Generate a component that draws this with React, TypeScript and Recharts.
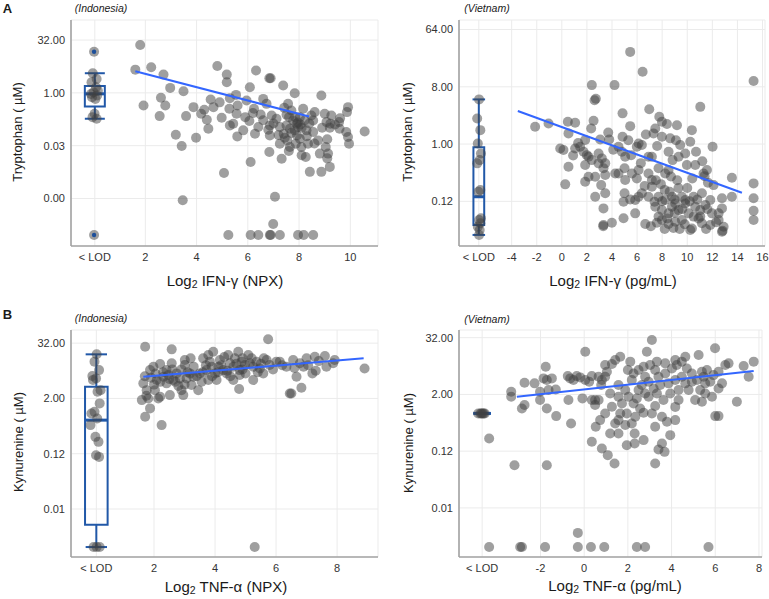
import React from "react";
import {
  ScatterChart,
  Scatter,
  XAxis,
  YAxis,
  CartesianGrid,
  ReferenceLine,
  ReferenceArea,
} from "recharts";

type XY = [number, number];

// all values are plotted on log2 scales: x = log2 cytokine, y = log2 metabolite (µM)
const trpTicksIdn = [5, 0, -5, -10];
const trpLabelsIdn = ["32.00", "1.00", "0.03", "0.00"];
const trpTicksVn = [6, 3, 0, -3];
const trpLabelsVn = ["64.00", "8.00", "1.00", "0.12"];
const kynTicks = [5, 1, -3, -7];
const kynLabels = ["32.00", "2.00", "0.12", "0.01"];

const ifnTicksIdn = [2, 4, 6, 8, 10];
const ifnTicksVn = [-4, -2, 0, 2, 4, 6, 8, 10, 12, 14, 16];
const tnfTicksIdn = [2, 4, 6, 8];
const tnfTicksVn = [-2, 0, 2, 4, 6, 8];

// A, Indonesia
const idnIfnTrp: XY[] = [
  [1.8, 4.53], [1.61, 2.2], [2.23, 2.42], [2.71, 1.73], [4.81, 2.55], [5.18, 1.73], [5.18, 1.01], [6.32, 2.11], [6.84, 1.38], [6.89, 1.38],
  [6.08, 0.53], [7.38, 0.69], [7.83, -0.03], [2.97, 0.47], [3.49, 0.16], [2.61, -0.47], [5.54, -0.19], [4.55, -0.63], [5.95, -0.72], [8.87, -0.25],
  [6.6, -0.57], [1.93, -1.19], [2.78, -1.19], [3.88, -1.35], [4.66, -1.35], [4.18, -1.98], [5.28, -1.51], [5.56, -1.98], [6.24, -1.51], [6.73, -1.04],
  [6.93, -2.14], [7.57, -1.04], [7.42, -1.42], [7.7, -1.67], [8.16, -1.51], [8.61, -1.82], [9.0, -1.98], [9.26, -2.14], [9.91, -1.35], [9.87, -1.82],
  [2.56, -2.2], [3.59, -2.2], [8.03, -2.3], [7.51, -2.08], [7.61, -2.3], [8.48, -2.14], [6.5, -2.04], [4.4, -2.55], [4.98, -2.36], [5.3, -3.08],
  [5.43, -2.92], [6.06, -2.67], [6.41, -3.24], [6.86, -3.08], [7.12, -2.45], [7.25, -3.24], [7.64, -3.4], [7.77, -2.61], [7.9, -2.92], [7.96, -3.24],
  [8.22, -2.61], [8.29, -3.55], [8.55, -3.71], [8.55, -2.61], [9.07, -2.77], [9.22, -2.92], [9.56, -2.77], [9.58, -3.4], [9.84, -3.71], [10.56, -3.65],
  [4.46, -3.4], [5.82, -3.55], [7.51, -3.08], [7.83, -3.55], [3.19, -3.96], [3.98, -4.25], [5.59, -4.12], [6.28, -3.87], [6.86, -4.03], [7.44, -4.25],
  [7.54, -4.5], [7.92, -4.03], [8.03, -4.34], [7.87, -4.81], [8.09, -5.13], [8.35, -4.81], [8.74, -4.5], [9.04, -5.13], [9.91, -4.18], [9.95, -4.81],
  [3.42, -5.03], [6.84, -5.6], [7.64, -5.13], [9.13, -5.75], [8.81, -5.75], [7.25, -4.81], [8.26, -6.07], [7.32, -6.23], [6.11, -6.54], [9.2, -7.01],
  [8.42, -7.48], [8.87, -7.48], [5.07, -7.58], [7.06, -9.84], [3.46, -10.16], [6.99, -12.42],
  [5.24, -13.46], [6.11, -13.46], [6.41, -13.46], [6.86, -13.46], [6.89, -13.46], [7.25, -13.46], [7.96, -13.46], [8.18, -13.46], [8.55, -13.46],
  [7.85, -2.3], [7.95, -2.8], [8.05, -3.0], [7.7, -3.8], [8.1, -3.3], [8.4, -2.9], [8.3, -4.1], [7.4, -3.9], [7.2, -4.0], [9.1, -4.4],
  [9.2, -3.3], [6.6, -2.6], [6.8, -3.5], [7.0, -2.9], [5.9, -2.3], [6.2, -1.9], [4.9, -0.9], [5.3, -0.5], [4.3, -1.6], [5.6, -1.2],
  [9.4, -3.0], [9.6, -2.4], [8.9, -3.3], [8.6, -4.8], [7.6, -5.5], [9.1, -6.2], [8.1, -5.9],
];
const idnIfnTrpLod: XY[] = [
  [0.0, 3.9], [-0.05, 1.86], [0.1, 1.32], [-0.1, 1.0], [0.08, 0.53], [-0.02, 0.06], [0.12, -0.25], [-0.08, -0.41],
  [0.05, -0.57], [0.15, 0.2], [-0.12, -0.1], [0.02, -1.98], [-0.06, -2.3], [0.1, -2.45], [0.0, -13.46],
];
const idnIfnTrpOut: XY[] = [[0.0, 3.9], [0.0, -13.46]];
const idnIfnTrpBox = [-2.45, -1.29, -0.09, 0.66, 1.86];
const idnIfnTrpFit: XY[] = [[1.61, 2.04], [8.39, -2.23]];

// A, Vietnam
const vnIfnTrp: XY[] = [
  [5.45, 4.83], [6.44, 3.79], [15.29, 3.3], [2.39, 3.09], [4.2, 3.09], [2.71, 2.37], [2.61, 2.3], [11.04, 1.95], [6.97, 1.82], [4.84, 1.61],
  [7.77, 1.43], [-2.13, 0.91], [-1.06, 1.08], [0.48, 1.17], [1.06, 1.12], [2.53, 1.22], [2.34, 0.82], [5.45, 0.94], [7.45, 0.82], [7.31, 0.56],
  [7.98, 1.17], [8.38, 1.05], [9.18, 0.99], [10.37, 0.73], [0.53, 0.56], [1.86, 0.21], [3.06, 0.24], [3.78, 0.24], [4.84, 0.38], [6.12, 0.03],
  [5.98, -0.14], [7.98, 0.38], [8.64, 0.3], [9.44, -0.05], [10.24, 0.12], [12.02, -0.14], [-0.13, -0.23], [0.13, -0.31], [1.06, -0.23], [1.46, -0.14],
  [1.73, -0.4], [1.99, -0.58], [2.13, -0.66], [2.93, -0.49], [3.19, -0.75], [3.46, -1.01], [4.52, -0.14], [4.79, -0.4], [5.05, -0.66], [5.53, -0.58],
  [6.38, -0.05], [6.91, -0.66], [7.18, -0.66], [8.51, -0.4], [8.83, -0.84], [9.31, -0.66], [9.84, -0.49], [9.97, -1.1], [10.64, -1.1], [11.3, -1.54],
  [11.57, -1.36], [0.53, -1.19], [1.86, -1.1], [2.39, -0.84], [2.93, -1.01], [3.32, -1.27], [4.52, -1.54], [5.0, -1.27], [5.59, -1.54], [6.12, -1.36],
  [2.13, -1.71], [2.66, -1.71], [3.46, -1.62], [4.26, -1.54], [5.05, -1.88], [5.98, -1.8], [6.91, -1.54], [7.18, -1.88], [7.71, -1.27], [8.24, -1.54],
  [8.51, -1.36], [0.27, -2.11], [1.86, -1.97], [3.14, -2.15], [15.29, -2.06], [13.56, -1.76], [11.38, -1.68], [11.65, -2.02], [12.1, -2.15], [2.66, -2.76],
  [3.46, -2.58], [5.0, -2.58], [5.85, -2.93], [6.38, -2.58], [7.39, -3.02], [7.71, -2.76], [7.18, -2.23], [4.92, -3.02], [5.45, -2.9], [6.12, -2.76],
  [6.91, -2.76], [8.78, -2.76], [9.84, -2.93], [10.51, -2.76], [11.17, -2.58], [11.84, -2.93], [12.77, -2.84], [13.56, -2.76], [15.29, -2.84], [15.29, -3.49],
  [15.29, -3.98], [3.32, -3.37], [5.85, -3.63], [4.92, -3.89], [3.32, -4.24], [3.99, -4.12], [6.65, -4.19], [7.58, -4.12], [7.98, -3.98], [8.51, -4.19],
  [9.04, -4.07], [9.57, -3.98], [10.37, -4.42], [11.17, -4.15], [11.84, -4.24], [12.5, -3.98], [12.9, -4.33], [12.82, -4.54], [7.45, -3.28], [7.98, -3.46],
  [8.51, -3.63], [9.04, -3.11], [9.31, -3.46], [9.84, -3.11], [10.11, -3.63], [10.64, -3.28], [11.04, -3.46], [11.44, -3.19], [11.97, -3.63], [12.5, -3.63],
  [12.77, -3.37], [7.71, -3.8], [8.24, -2.93], [8.78, -3.28], [9.57, -2.76], [10.51, -3.8], [11.04, -3.8], [12.77, -4.59], [10.24, -4.5],
  [8.2, -2.4], [8.6, -2.5], [9.0, -2.9], [9.3, -2.3], [8.0, -3.0], [8.4, -3.9], [9.0, -3.6], [9.6, -3.4], [10.2, -3.0], [10.8, -2.9],
  [10.9, -3.9], [9.8, -4.2], [8.9, -4.4], [7.9, -2.1], [10.0, -2.3], [10.4, -1.8], [9.2, -1.9], [8.7, -1.7], [7.5, -1.9], [6.6, -2.2],
  [11.2, -0.9], [10.7, -0.4], [9.1, 0.2], [7.6, -0.1], [6.7, 0.5], [4.1, -0.3], [3.7, 0.6], [1.3, 0.05], [0.9, -0.6], [5.3, 0.2],
  [6.3, -1.0], [11.6, -3.4], [12.3, -4.1], [7.1, -4.3], [8.2, -4.45], [9.4, -4.45], [11.5, -4.45], [3.3, -4.3],
];
const vnIfnTrpLod: XY[] = [
  [-6.6, 2.34], [-6.75, 1.34], [-6.5, 0.73], [-6.7, 0.03], [-6.45, -0.49], [-6.55, -0.84], [-6.75, -1.01], [-6.5, -2.41],
  [-6.65, -2.5], [-6.45, -3.89], [-6.6, -3.98], [-6.5, -4.15], [-6.7, -4.33], [-6.55, -4.5], [-6.6, -4.76],
];
const vnIfnTrpOut: XY[] = [];
const vnIfnTrpBox = [-4.76, -4.24, -2.76, -0.17, 2.34];
const vnIfnTrpFit: XY[] = [[-3.51, 1.73], [14.36, -2.55]];

// B, Indonesia
const idnTnfKyn: XY[] = [
  [1.71, 4.74], [2.58, 4.55], [5.74, 5.28], [8.9, 3.17], [1.65, 2.09], [1.6, 0.88], [1.71, -0.33], [1.87, 0.28], [1.76, 1.6], [1.87, 3.05],
  [1.98, 3.29], [2.09, 2.33], [2.14, 1.0], [2.2, 3.49], [2.31, 2.57], [2.41, 2.09], [2.41, 3.05], [2.47, 2.69], [2.52, 1.24], [2.58, 3.54],
  [2.63, 2.33], [2.74, 2.81], [2.85, 2.45], [2.9, 1.6], [2.96, 1.24], [3.01, 3.78], [3.07, 2.45], [3.18, 2.81], [3.23, 1.97], [3.29, 2.57],
  [3.45, 1.6], [3.5, 2.81], [3.61, 3.9], [3.72, 3.05], [3.78, 4.14], [3.83, 3.66], [3.89, 3.29], [3.94, 4.38], [4.0, 2.81], [4.05, 2.33],
  [4.11, 3.29], [4.16, 3.78], [4.27, 3.05], [4.38, 2.81], [4.43, 4.14], [4.49, 3.54], [4.6, 3.29], [4.6, 2.33], [4.65, 3.9], [4.76, 4.38],
  [4.81, 3.05], [4.87, 3.66], [4.79, 1.68], [4.98, 3.42], [5.09, 4.14], [5.14, 3.54], [5.25, 3.29], [5.25, 2.33], [5.36, 3.66], [5.47, 3.17],
  [5.58, 2.81], [5.69, 3.78], [5.79, 3.42], [6.01, 3.66], [6.34, 3.29], [6.45, 1.36], [6.5, 1.36], [6.56, 3.78], [6.67, 2.57], [6.78, 3.54],
  [6.83, 1.77], [7.0, 3.9], [7.19, 2.81], [7.27, 4.02], [7.6, 4.07], [7.65, 3.29], [7.87, 3.54], [7.92, 3.78], [6.12, 3.66], [4.81, 2.69],
  [3.56, 2.21], [3.78, 2.33], [3.01, 3.42], [2.03, 1.6], [1.81, 1.0], [2.2, 1.12], [2.25, -0.93], [5.3, -9.75],
  [2.3, 2.9], [2.5, 2.4], [2.7, 2.2], [2.9, 3.1], [3.1, 2.9], [3.3, 3.3], [3.4, 2.6], [3.6, 2.9], [3.9, 2.6], [4.1, 2.9],
  [4.2, 3.4], [4.4, 3.0], [4.5, 2.6], [4.7, 3.5], [4.9, 3.1], [5.0, 2.8], [5.2, 3.9], [5.4, 2.9], [5.5, 3.5], [5.9, 3.1],
  [6.2, 3.4], [6.6, 3.2], [7.05, 3.4], [7.4, 3.7], [3.2, 3.9], [2.05, 2.8], [1.9, 2.5], [2.2, 2.2], [2.6, 3.1], [3.7, 3.4],
  [4.3, 4.0], [4.9, 3.9], [5.6, 3.9], [6.9, 3.3], [7.3, 3.0], [2.8, 1.9], [3.0, 2.0], [1.75, 1.2], [2.0, 2.0], [1.7, 2.6],
];
const idnTnfKynLod: XY[] = [
  [0.12, 4.19], [0.05, 3.66], [0.2, 3.05], [-0.02, 2.62], [0.1, 2.45], [0.0, 2.33], [0.25, 1.6], [0.15, 1.48], [0.22, 0.64], [0.05, 0.03],
  [-0.05, -0.09], [0.14, -0.45], [-0.08, -0.93], [0.08, -1.78], [0.18, -2.14], [0.1, -3.11], [0.2, -3.23], [0.02, -9.75], [0.12, -9.75], [0.22, -9.75],
];
const idnTnfKynOut: XY[] = [];
const idnTnfKynBox = [-9.75, -8.13, -0.57, 1.85, 4.19];
const idnTnfKynFit: XY[] = [[1.65, 2.57], [8.87, 3.9]];

// B, Vietnam
const vnTnfKyn: XY[] = [
  [-3.34, 1.19], [-3.34, 0.84], [-3.19, -3.99], [-2.85, 0.01], [-2.73, 0.25], [-2.73, 1.82], [-2.27, 1.78], [-2.02, 1.19], [-2.02, 0.6], [-1.86, 2.13],
  [-1.76, 2.95], [-1.71, 2.01], [-1.63, 1.31], [-1.48, 2.13], [-1.3, 1.35], [-1.71, 0.01], [-1.28, -0.53], [-1.71, -3.99], [-2.93, -9.75], [-2.85, -9.75],
  [-4.35, -9.75], [-1.79, -9.75], [-0.75, 2.29], [-0.64, 2.13], [-0.49, 2.01], [-0.34, 2.29], [-0.18, 2.2], [0.05, 2.01], [0.23, 1.89], [0.35, 2.29],
  [0.66, 2.25], [0.81, 2.01], [-0.72, 0.6], [-0.6, -1.05], [0.05, 4.01], [-0.08, 0.72], [0.35, 0.6], [0.5, 0.6], [0.66, 0.6], [0.78, 1.66],
  [0.96, 2.25], [0.53, -1.28], [0.73, -0.81], [0.96, 3.07], [1.04, 2.6], [1.27, 3.14], [1.42, 3.42], [1.65, 3.66], [-0.29, -8.76], [-0.29, -9.75],
  [0.31, -9.75], [0.92, -9.75], [2.41, -9.75], [2.79, -9.75], [5.69, -9.75], [0.35, -2.34], [0.81, -2.81], [1.08, -3.28], [1.39, -3.87], [1.19, -1.75],
  [1.57, -1.75], [1.42, -1.05], [1.65, -0.34], [1.73, 0.36], [1.57, -0.81], [1.88, -1.16], [2.18, -1.05], [1.95, -2.58], [2.31, -1.75], [2.31, -2.46],
  [2.72, -2.22], [3.25, -3.87], [3.4, -2.88], [3.56, -2.46], [3.68, -3.05], [3.94, -1.87], [2.87, 4.01], [3.1, 4.84], [5.24, 3.78], [5.99, 4.25],
  [7.76, 3.31], [7.3, 3.0], [7.53, 2.25], [6.99, 0.48], [6.0, -0.53], [6.15, -0.53], [5.39, 0.48], [5.85, 0.84], [4.17, -0.81], [4.17, 0.12],
  [3.79, -0.93], [2.72, -0.29], [3.1, -0.34], [3.25, 0.18], [2.56, 0.01], [2.26, 0.36], [2.95, 0.84], [2.49, 1.31], [3.63, 0.6], [4.32, 0.6],
  [4.78, 1.31], [5.31, 1.31], [5.54, 1.07], [4.63, 1.78], [1.57, 1.66], [1.88, 1.31], [2.0, 2.72], [2.26, 2.48], [2.49, 2.72], [2.72, 2.95],
  [3.02, 3.07], [3.25, 2.72], [3.4, 2.25], [3.71, 2.48], [4.02, 2.83], [4.24, 3.07], [4.47, 3.31], [4.7, 2.83], [4.93, 2.48], [5.16, 2.01],
  [5.47, 2.25], [5.62, 2.72], [5.92, 2.36], [6.15, 2.6], [6.46, 3.07], [6.61, 3.19], [6.31, 1.78], [2.18, 2.01], [2.64, 1.66], [2.95, 1.89],
  [3.18, 1.42], [3.48, 1.66], [3.86, 1.78], [4.17, 2.01], [4.47, 2.25], [4.93, 1.89], [2.79, 2.25], [2.11, 3.31], [3.33, 3.31], [3.71, 3.19],
  [4.17, 3.42], [4.63, 3.66], [5.39, 2.6], [5.77, 1.89], [6.15, 1.42], [5.54, 1.78], [2.03, 0.84], [2.41, 0.72], [2.79, 1.07], [3.33, 1.07],
  [3.94, 1.07], [4.32, 1.31], [5.08, 0.6], [1.57, 0.84], [1.27, 0.13], [2.34, -0.58], [3.56, -0.58], [3.25, -1.28], [1.95, -0.34], [0.96, -0.34],
  [0.5, 0.25], [1.19, 1.07],
];
const vnTnfKynLod: XY[] = [
  [-4.85, -0.34], [-4.75, -0.34], [-4.65, -0.34], [-4.55, -0.34], [-4.7, -0.34], [-4.6, -0.34], [-4.35, -2.11],
];
const vnTnfKynOut: XY[] = [];
const vnTnfKynBox = [-0.34, -0.34, -0.34, -0.34, -0.34];
const vnTnfKynFit: XY[] = [[-3.08, 0.84], [7.76, 2.65]];

type PanelCfg = {
  left: number;
  top: number;
  width: number;
  height: number;
  margin: { top: number; right: number; bottom: number; left: number };
  yw: number;
  xh: number;
  xDomain: [number, number];
  yDomain: [number, number];
  lodX: number;
  xTicks: number[];
  yTicks: number[];
  yLabels: string[];
  points: XY[];
  lod: XY[];
  outliers: XY[];
  box: number[];
  boxHalf: number;
  capHalf: number;
  fit: XY[];
};

const panels: PanelCfg[] = [
  {
    left: 0, top: 0, width: 385, height: 270,
    margin: { top: 20, right: 7, bottom: 0, left: 0 }, yw: 71, xh: 24,
    xDomain: [-0.9, 11.08], yDomain: [-14.5, 6.9], lodX: 0.03,
    xTicks: ifnTicksIdn, yTicks: trpTicksIdn, yLabels: trpLabelsIdn,
    points: idnIfnTrp, lod: idnIfnTrpLod, outliers: idnIfnTrpOut,
    box: idnIfnTrpBox, boxHalf: 0.39, capHalf: 0.39, fit: idnIfnTrpFit,
  },
  {
    left: 385, top: 0, width: 384, height: 270,
    margin: { top: 20, right: 4, bottom: 0, left: 0 }, yw: 74, xh: 24,
    xDomain: [-8.2, 16.2], yDomain: [-5.34, 6.5], lodX: -6.62,
    xTicks: ifnTicksVn, yTicks: trpTicksVn, yLabels: trpLabelsVn,
    points: vnIfnTrp, lod: vnIfnTrpLod, outliers: vnIfnTrpOut,
    box: vnIfnTrpBox, boxHalf: 0.43, capHalf: 0.5, fit: vnIfnTrpFit,
  },
  {
    left: 0, top: 300, width: 385, height: 280,
    margin: { top: 30, right: 7, bottom: 0, left: 0 }, yw: 71, xh: 23,
    xDomain: [-0.72, 9.34], yDomain: [-10.47, 5.95], lodX: 0.11,
    xTicks: tnfTicksIdn, yTicks: kynTicks, yLabels: kynLabels,
    points: idnTnfKyn, lod: idnTnfKynLod, outliers: idnTnfKynOut,
    box: idnTnfKynBox, boxHalf: 0.37, capHalf: 0.35, fit: idnTnfKynFit,
  },
  {
    left: 385, top: 300, width: 384, height: 280,
    margin: { top: 30, right: 7, bottom: 0, left: 0 }, yw: 74, xh: 23,
    xDomain: [-5.73, 8.14], yDomain: [-10.46, 5.54], lodX: -4.67,
    xTicks: tnfTicksVn, yTicks: kynTicks, yLabels: kynLabels,
    points: vnTnfKyn, lod: vnTnfKynLod, outliers: vnTnfKynOut,
    box: vnTnfKynBox, boxHalf: 0.4, capHalf: 0.4, fit: vnTnfKynFit,
  },
];

const BOX = "#2158a8";
const FIT = "#3366ff";
const AXIS = "#a3a3a3";
const tickStyle = { fontSize: 11, fill: "#333" };

const greyDot = (p: any) => (
  <circle cx={p.cx} cy={p.cy} r={5} fill="#404040" fillOpacity={0.5} />
);
const blueDot = (p: any) => <circle cx={p.cx} cy={p.cy} r={2.2} fill="#1d4f9a" />;

const toPts = (a: XY[]) => a.map(([x, y]) => ({ x, y }));

function Panel({ cfg }: { cfg: PanelCfg }) {
  const [lo, q1, med, q3, hi] = cfg.box;
  const c = cfg.lodX;
  const xt = [c, ...cfg.xTicks];
  return (
    <div style={{ position: "absolute", left: cfg.left, top: cfg.top }}>
      <ScatterChart width={cfg.width} height={cfg.height} margin={cfg.margin}>
        <CartesianGrid stroke="#ebebeb" strokeWidth={1} />
        <XAxis
          type="number"
          dataKey="x"
          domain={cfg.xDomain}
          ticks={xt}
          interval={0}
          allowDataOverflow
          height={cfg.xh}
          tickFormatter={(v) => (v === c ? "< LOD" : String(v))}
          axisLine={{ stroke: AXIS, strokeWidth: 1.6 }}
          tickLine={false}
          tickSize={4}
          tickMargin={3}
          tick={tickStyle}
        />
        <YAxis
          type="number"
          dataKey="y"
          domain={cfg.yDomain}
          ticks={cfg.yTicks}
          interval={0}
          allowDataOverflow
          width={cfg.yw}
          tickFormatter={(v) => cfg.yLabels[cfg.yTicks.indexOf(v)] ?? ""}
          axisLine={{ stroke: AXIS, strokeWidth: 1.6 }}
          tickLine={false}
          tickSize={4}
          tickMargin={2}
          tick={tickStyle}
        />
        {q3 > q1 && (
          <ReferenceArea x1={c - cfg.boxHalf} x2={c + cfg.boxHalf} y1={q1} y2={q3} fill="none" stroke={BOX} strokeWidth={2} />
        )}
        <ReferenceLine segment={[{ x: c - cfg.boxHalf, y: med }, { x: c + cfg.boxHalf, y: med }]} stroke={BOX} strokeWidth={3} />
        <ReferenceLine segment={[{ x: c, y: q3 }, { x: c, y: hi }]} stroke={BOX} strokeWidth={2} />
        <ReferenceLine segment={[{ x: c, y: q1 }, { x: c, y: lo }]} stroke={BOX} strokeWidth={2} />
        <ReferenceLine segment={[{ x: c - cfg.capHalf, y: hi }, { x: c + cfg.capHalf, y: hi }]} stroke={BOX} strokeWidth={2} />
        <ReferenceLine segment={[{ x: c - cfg.capHalf, y: lo }, { x: c + cfg.capHalf, y: lo }]} stroke={BOX} strokeWidth={2} />
        <Scatter data={toPts(cfg.lod)} shape={greyDot} isAnimationActive={false} />
        <Scatter data={toPts(cfg.outliers)} shape={blueDot} isAnimationActive={false} />
        <Scatter data={toPts(cfg.points)} shape={greyDot} isAnimationActive={false} />
        <ReferenceLine segment={[{ x: cfg.fit[0][0], y: cfg.fit[0][1] }, { x: cfg.fit[1][0], y: cfg.fit[1][1] }]} stroke={FIT} strokeWidth={2} zIndex={700} />
      </ScatterChart>
    </div>
  );
}

function Text({
  x, y, size, rotate, italic, bold, children,
}: {
  x: number; y: number; size: number; rotate?: boolean; italic?: boolean; bold?: boolean; children: React.ReactNode;
}) {
  return (
    <div
      style={{
        position: "absolute",
        left: x,
        top: y,
        transform: `translate(-50%, -50%)${rotate ? " rotate(-90deg)" : ""}`,
        fontSize: size,
        fontStyle: italic ? "italic" : "normal",
        fontWeight: bold ? 700 : 400,
        whiteSpace: "nowrap",
        lineHeight: 1,
        color: "#1a1a1a",
      }}
    >
      {children}
    </div>
  );
}

const sub = (s: string) => <sub style={{ fontSize: "0.7em", verticalAlign: "-0.25em", lineHeight: 0 }}>{s}</sub>;

export default function App() {
  return (
    <div
      style={{
        position: "absolute",
        left: 0,
        top: 0,
        width: 769,
        height: 599,
        background: "#fff",
        fontFamily: "'Liberation Sans', Arial, sans-serif",
        overflow: "hidden",
      }}
    >
      {panels.map((p, i) => (
        <Panel key={i} cfg={p} />
      ))}
      <Text x={7.5} y={8} size={13} bold>A</Text>
      <Text x={101} y={8} size={10.5} italic>(Indonesia)</Text>
      <Text x={487} y={8} size={10.5} italic>(Vietnam)</Text>
      <Text x={7.5} y={314} size={13} bold>B</Text>
      <Text x={101} y={318} size={10.5} italic>(Indonesia)</Text>
      <Text x={487} y={319} size={10.5} italic>(Vietnam)</Text>

      <Text x={225} y={280} size={15}>Log{sub("2")} IFN-γ (NPX)</Text>
      <Text x={613} y={280} size={15}>Log{sub("2")} IFN-γ (pg/mL)</Text>
      <Text x={226} y={586} size={15}>Log{sub("2")} TNF-α (NPX)</Text>
      <Text x={615} y={585} size={15}>Log{sub("2")} TNF-α (pg/mL)</Text>

      <Text x={17} y={132} size={13} rotate>Tryptophan ( µM)</Text>
      <Text x={407} y={132} size={13} rotate>Tryptophan ( µM)</Text>
      <Text x={18} y={442} size={13} rotate>Kynurenine ( µM)</Text>
      <Text x={408} y={443} size={13} rotate>Kynurenine ( µM)</Text>
    </div>
  );
}
